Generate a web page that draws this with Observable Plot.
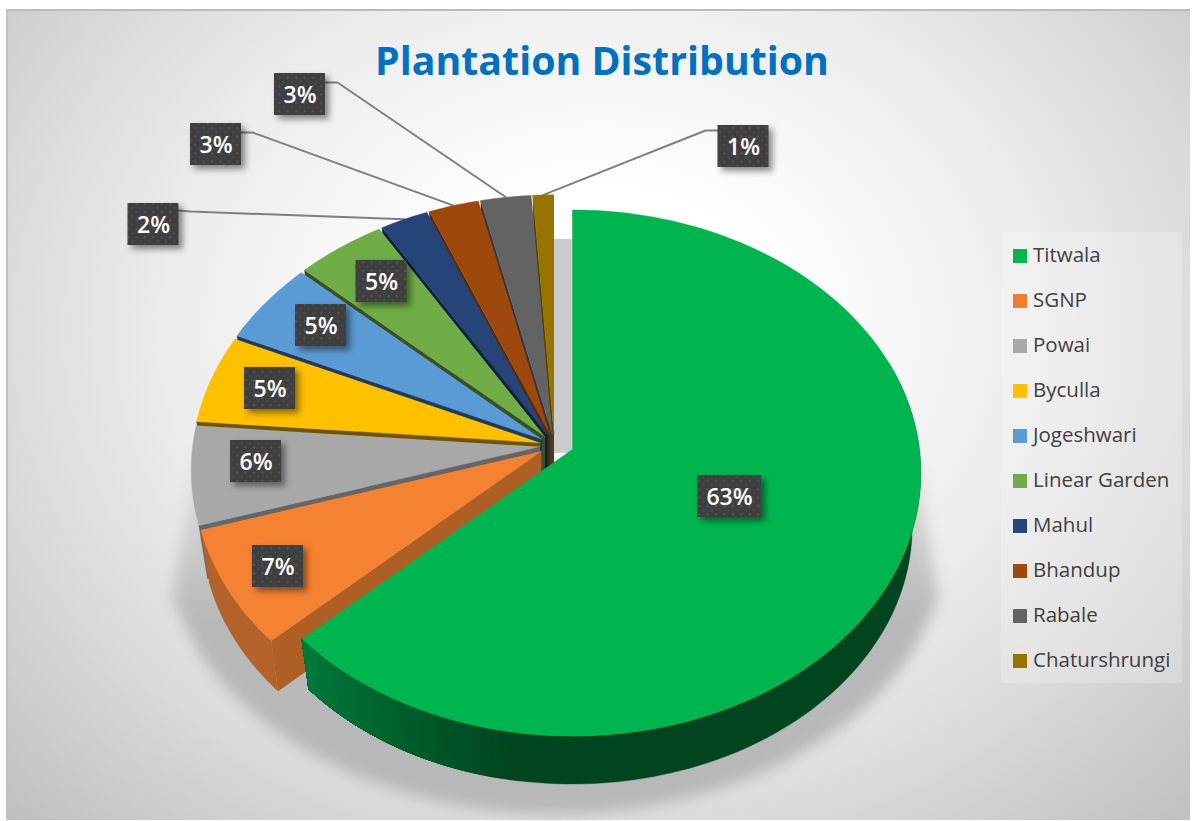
<!DOCTYPE html>
<html><head><meta charset="utf-8">
<script src="https://cdn.jsdelivr.net/npm/d3@7"></script>
<script src="https://cdn.jsdelivr.net/npm/@observablehq/plot@0.6"></script>
<style>
html,body{margin:0;padding:0;background:#fff;overflow:hidden}
#frame{position:absolute;left:6px;top:9px;width:1184px;height:811px;box-sizing:border-box;border-top:2px solid #bcbcbc;border-left:2px solid #c0c0c0;
background:radial-gradient(ellipse farthest-corner at 594px 320px,#fff 0%,#fff 20%,#ececec 52%,#d9d9d9 74%,#bfbfbf 100%)}
#chart{position:absolute;left:0;top:0;width:1197px;height:821px}
h1{position:absolute;left:0;top:30px;width:1204px;margin:0;text-align:center;font:700 39.3px "Open Sans",sans-serif;color:#0070c0;line-height:60px}
#legend{position:absolute;left:1001px;top:232px;width:181px;height:451px;background:rgba(255,255,255,.22);font:20.5px "Open Sans",sans-serif;color:#404040}
#legend div{position:absolute;left:12px;height:30px;line-height:30px;white-space:nowrap}
#legend i{display:inline-block;width:14px;height:14px;margin-right:6px;vertical-align:-1px}
</style></head><body>
<div id="frame"></div><div id="chart"></div>
<h1>Plantation Distribution</h1>
<div id="legend"></div>
<script>
const categories=["Titwala","SGNP","Powai","Byculla","Jogeshwari","Linear Garden","Mahul","Bhandup","Rabale","Chaturshrungi"];
const values=[63.05,7.2,6.05,5.45,5.1,4.55,2.45,2.55,2.55,1.05];
const colors=["#00b550","#f58233","#a8a8a8","#ffc000","#5b9bd5","#70ad47","#264478","#9e480e","#636363","#997300"];
const wallColors=["#00451f","#ae5f25","#666666","#6f5400","#1f3a5c","#3a4f26","#0f1f40","#552a08","#3a3a3a","#544000"];
// label layout (box centres, width)
const labelX=[729,277.5,255.5,269.5,320.5,381,153,215.5,299.5,743];
const labelY=[496,566,461,388,325,281,224,144,94,146];
const labelW=[64,51,51,51,51,51,51,51,51,51];
const labelH=42;
// leader layout: box edge and elbow for the slices with callouts
const leaders=[{i:6,x0:178,y0:210,x1:190,y1:211},{i:7,x0:241,y0:132,x1:252,y1:132},{i:8,x0:325,y0:82,x1:337,y1:82},{i:9,x0:718,y0:130,x1:705,y1:130}];

const R=347,AR=261,P=0.09,DEPTH=55,BOTTOM=0.975,A=0.75;
const CX=554,CY=445;
const rad=d=>d*Math.PI/180;
const total=d3.sum(values);
let acc=0;
const slices=values.map((v,i)=>{const a0=acc/total*360;acc+=v;const a1=acc/total*360;const mid=(a0+a1)/2;const e=i===0?19.5:15;
  const cy=i===0?CY-2:CY;
  return {i,a0,a1,mid,ax:CX+e*Math.sin(rad(mid)),ay:cy-e*A*Math.cos(rad(mid))};});
function pt(s,deg,scale=1,dz=0){const c=Math.cos(rad(deg)),k=1+P*c;return {x:s.ax+scale*R*Math.sin(rad(deg))/k,y:s.ay+dz-scale*AR*c/k};}
function arc(s,a0,a1,scale=1,dz=0){const n=Math.max(2,Math.ceil(Math.abs(a1-a0)/1.5));return d3.range(n+1).map(j=>pt(s,a0+(a1-a0)*j/n,scale,dz));}

const pieces=[];let pid=0;
function add(points,fill){const id=pid++;for(const p of points)pieces.push({x:p.x,y:p.y,id,fill});}
function wall(s,a0,a1,fill){add([...arc(s,a0,a1),...arc(s,a1,a0,BOTTOM,DEPTH)],fill);}
const greenShade=d3.interpolateRgb("#00451f","#007a3a");
// painter's order: back slices first
for(const s of [...slices].reverse()){
  const apexT={x:s.ax,y:s.ay},apexB={x:s.ax,y:s.ay+DEPTH};
  if(s.i===0){
    wall(s,70,190,"#00451f");
    // shaded stretch of the wall: each band runs on to the end so that no seams show
    for(let a=188;a<s.a1;a+=1.5)wall(s,a,s.a1,greenShade((a-188)/(s.a1-188)));
  }else{
    add([apexT,pt(s,s.a0),pt(s,s.a0,BOTTOM,DEPTH),apexB],wallColors[s.i]);
    if(s.i===1)wall(s,s.a0,s.a1,"#b3622a");
  }
  add([apexT,...arc(s,s.a0,s.a1)],colors[s.i]);
}
// ground shadow
const shadowArc=d3.range(115,246,3).map(d=>({x:555+395*Math.sin(rad(d)),y:530-284*Math.cos(rad(d))}));
const shadowShape=[{x:917,y:465},{x:938,y:600},...shadowArc,{x:172,y:600},{x:195,y:455}];
const chatur=slices[9],tit=slices[0];
const gap=[{x1:pt(chatur,360).x,x2:tit.ax,y1:239,y2:tit.ay+4}];
const labels=slices.map(s=>({t:d3.format(".0f")(values[s.i])+"%",x:labelX[s.i],y:labelY[s.i],w:labelW[s.i]}));
const leaderPaths=leaders.flatMap(l=>{const e=pt(slices[l.i],slices[l.i].mid);return [{x:l.x0,y:l.y0,i:l.i},{x:l.x1,y:l.y1,i:l.i},{x:e.x,y:e.y,i:l.i}];});

const defs=()=>{const d=document.createElementNS("http://www.w3.org/2000/svg","defs");
 d.innerHTML='<pattern id="dots" width="8.4" height="8.4" patternUnits="userSpaceOnUse"><rect width="8.4" height="8.4" fill="#3f3f3f"/><circle cx="2.1" cy="2.1" r="1.1" fill="#555"/><circle cx="6.3" cy="6.3" r="1.1" fill="#4c4c4c"/></pattern>'
 +'<linearGradient id="shade" gradientUnits="userSpaceOnUse" x1="0" x2="0" y1="455" y2="620"><stop offset="0" stop-color="#e2e2e2"/><stop offset="1" stop-color="#b8b8b8"/></linearGradient>';return d;};

const plot=Plot.plot({width:1197,height:821,margin:0,
 style:{background:"transparent"},
 x:{domain:[0,1197],range:[0,1197],axis:null},y:{domain:[0,821],range:[0,821],axis:null},color:{type:"identity"},
 marks:[defs,
  Plot.line(shadowShape,{x:"x",y:"y",fill:"url(#shade)",stroke:"none",imageFilter:"blur(7px)"}),
  Plot.rect(gap,{x1:"x1",x2:"x2",y1:"y1",y2:"y2",fill:"#cbcbcb"}),
  Plot.line(leaderPaths,{x:"x",y:"y",z:"i",stroke:"#7f7f7f",strokeWidth:2}),
  Plot.line(pieces,{x:"x",y:"y",z:"id",fill:"fill",stroke:"fill",strokeWidth:0.4}),
  Plot.rect(labels,{x1:d=>d.x-d.w/2,x2:d=>d.x+d.w/2,y1:d=>d.y-labelH/2,y2:d=>d.y+labelH/2,fill:"url(#dots)",imageFilter:"drop-shadow(4px 4px 3px rgba(0,0,0,.45))"}),
  Plot.text(labels,{x:"x",y:d=>d.y+1,text:"t",fill:"white",fontSize:23,fontWeight:600,fontFamily:"Open Sans"})
 ]});
document.getElementById("chart").append(plot);
const lg=document.getElementById("legend");
categories.forEach((c,i)=>{const d=document.createElement("div");d.style.top=(7+45*i)+"px";
 const sw=document.createElement("i");sw.style.background=i===1?"#ed7d31":colors[i];d.append(sw,c);lg.append(d);});
</script></body></html>
